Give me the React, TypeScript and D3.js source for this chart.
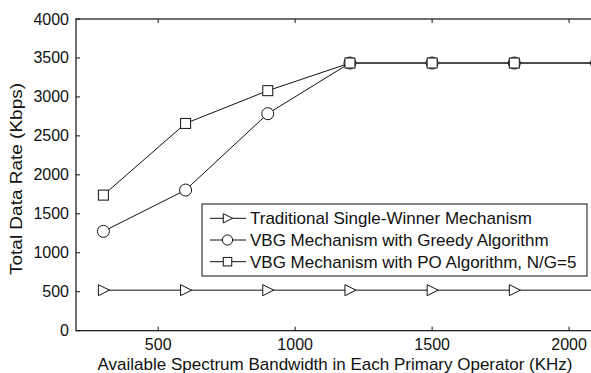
import React, { useEffect, useRef } from 'react';
import * as d3 from 'd3';

const bandwidths = [300, 600, 900, 1200, 1500, 1800, 2100];
const traditional = [520, 520, 520, 520, 520, 520, 520];
const greedy = [1275, 1805, 2785, 3435, 3435, 3435, 3435];
const po = [1740, 2660, 3080, 3435, 3435, 3435, 3435];
const xTicks = [500, 1000, 1500, 2000];
const yTicks = [0, 500, 1000, 1500, 2000, 2500, 3000, 3500, 4000];
const seriesNames = [
  'Traditional Single-Winner Mechanism',
  'VBG Mechanism with Greedy Algorithm',
  'VBG Mechanism with PO Algorithm, N/G=5',
];

const width = 591;
const height = 373;
const font = 'Liberation Sans, Arial, Helvetica, sans-serif';

const App = () => {
  const svgRef = useRef<SVGSVGElement>(null);

  useEffect(() => {
    document.body.style.margin = '0';
    const svg = d3.select(svgRef.current);
    svg.selectAll('*').remove();

    const left = 76, right = 596.5, top = 19, bottom = 330.7;

    const x = d3.scaleLinear().domain([200, 2100]).range([left, right]);
    const y = d3.scaleLinear().domain([0, 4000]).range([bottom, top]);

    const ink = '#111';

    // frame
    svg.append('rect')
      .attr('x', left).attr('y', top)
      .attr('width', right - left).attr('height', bottom - top)
      .attr('fill', 'none').attr('stroke', ink).attr('stroke-width', 1.2);

    // inward ticks on all four sides
    const tl = 4;
    xTicks.forEach(t => {
      svg.append('line').attr('x1', x(t)).attr('x2', x(t)).attr('y1', bottom).attr('y2', bottom - tl).attr('stroke', ink);
      svg.append('line').attr('x1', x(t)).attr('x2', x(t)).attr('y1', top).attr('y2', top + tl).attr('stroke', ink);
      svg.append('text').attr('x', x(t)).attr('y', 350)
        .attr('text-anchor', 'middle').attr('font-family', font).attr('font-size', 16).attr('fill', ink)
        .text(t);
    });
    yTicks.forEach(t => {
      svg.append('line').attr('x1', left).attr('x2', left + tl).attr('y1', y(t)).attr('y2', y(t)).attr('stroke', ink);
      svg.append('line').attr('x1', right).attr('x2', right - tl).attr('y1', y(t)).attr('y2', y(t)).attr('stroke', ink);
      svg.append('text').attr('x', left - 7).attr('y', y(t) + 5.5)
        .attr('text-anchor', 'end').attr('font-family', font).attr('font-size', 16).attr('fill', ink)
        .text(t);
    });

    // axis labels
    svg.append('text').attr('x', 335).attr('y', 370)
      .attr('text-anchor', 'middle').attr('font-family', font).attr('font-size', 17).attr('fill', ink)
      .text('Available Spectrum Bandwidth in Each Primary Operator (KHz)');
    svg.append('text')
      .attr('transform', `translate(22,179) rotate(-90)`)
      .attr('text-anchor', 'middle').attr('font-family', font).attr('font-size', 17).attr('fill', ink)
      .attr('textLength', 192).attr('lengthAdjust', 'spacingAndGlyphs')
      .text('Total Data Rate (Kbps)');

    const line = d3.line<number>()
      .x((_, i) => x(bandwidths[i]))
      .y(d => y(d));

    const drawMarker = (g: any, kind: string, cx: number, cy: number, s = 1) => {
      if (kind === 'tri') {
        g.append('path')
          .attr('d', `M${cx - 5 * s},${cy - 5.5 * s}L${cx + 6 * s},${cy}L${cx - 5 * s},${cy + 5.5 * s}Z`)
          .attr('fill', 'white').attr('stroke', ink).attr('stroke-width', 1);
      } else if (kind === 'circle') {
        g.append('circle').attr('cx', cx).attr('cy', cy).attr('r', 6 * s)
          .attr('fill', 'white').attr('stroke', ink).attr('stroke-width', 1);
      } else {
        g.append('rect').attr('x', cx - 5 * s).attr('y', cy - 5 * s).attr('width', 10 * s).attr('height', 10 * s)
          .attr('fill', 'white').attr('stroke', ink).attr('stroke-width', 1);
      }
    };

    const series = [
      { values: traditional, kind: 'tri' },
      { values: greedy, kind: 'circle' },
      { values: po, kind: 'square' },
    ];

    const plot = svg.append('g');
    series.forEach(s => {
      plot.append('path').datum(s.values)
        .attr('fill', 'none').attr('stroke', ink).attr('stroke-width', 1)
        .attr('d', line);
    });
    series.forEach(s => {
      s.values.forEach((v, i) => drawMarker(plot, s.kind, x(bandwidths[i]), y(v)));
    });

    // legend
    const lg = svg.append('g');
    lg.append('rect').attr('x', 202).attr('y', 204).attr('width', 385).attr('height', 72)
      .attr('fill', 'white').attr('stroke', ink).attr('stroke-width', 1);
    const rowY = [218.3, 240, 261.7];
    series.forEach((s, i) => {
      lg.append('line').attr('x1', 210).attr('x2', 246).attr('y1', rowY[i]).attr('y2', rowY[i])
        .attr('stroke', ink).attr('stroke-width', 1);
      drawMarker(lg, s.kind, 227.5, rowY[i], 0.85);
      lg.append('text').attr('x', 250).attr('y', rowY[i] + 6)
        .attr('font-family', font).attr('font-size', 17).attr('fill', ink)
        .text(seriesNames[i]);
    });
  }, []);

  return <svg ref={svgRef} width={width} height={height} style={{ display: 'block', overflow: 'hidden' }}></svg>;
};

export default App;
